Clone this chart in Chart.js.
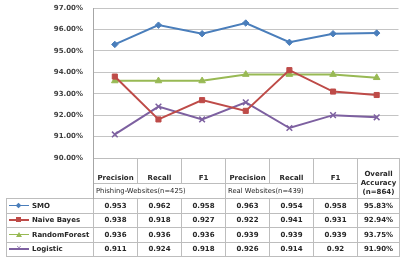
<!DOCTYPE html>
<html>
<head>
<meta charset="utf-8">
<script src="https://cdn.jsdelivr.net/npm/chart.js@4"></script>
<style>
  html, body { margin: 0; padding: 0; background: #fff; }
  #wrap { position: relative; width: 404px; height: 260px; overflow: hidden; font-family: 'DejaVu Sans', sans-serif; }
  #plot { position: absolute; left: 0; top: 0; width: 404px; height: 170px; }
  table.dt {
    position: absolute; left: 6px; top: 158px;
    border-collapse: collapse; table-layout: fixed;
    font-size: 7px; font-weight: bold; color: #262626;
  }
  table.dt td { border: 1px solid #bdbdbd; padding: 0; text-align: center; overflow: visible; white-space: nowrap; }
  table.dt td.blank { border: none; border-right: 1px solid #a6a6a6; }
  table.dt tr.h1 td { height: 23px; vertical-align: bottom; padding-bottom: 1px; }
  table.dt tr.h2 td { height: 14px; }
  table.dt tr.d td { height: 13.5px; }
  table.dt td.grp { text-align: left; font-weight: normal; padding-left: 2px; font-size: 6.8px; }
  table.dt td.ov { vertical-align: middle; line-height: 9px; }
  table.dt td.lg { text-align: left; padding-left: 2px; }
  .key { display: inline-block; position: relative; width: 20px; height: 7px; margin-right: 3px; vertical-align: -1px; }
  .key .ln { position: absolute; left: 0; right: 0; top: 3px; height: 1.5px; }
  .key .mk { position: absolute; left: 7px; top: 1px; width: 5px; height: 5px; }
</style>
</head>
<body>
<div id="wrap">
  <div id="plot"><canvas id="c"></canvas></div>
  <table class="dt" id="tbl"></table>
</div>
<script>
/* categories + groups */
const categories = ['Precision', 'Recall', 'F1', 'Precision', 'Recall', 'F1', 'Overall Accuracy'];
const groups     = ['Phishing-Websites(n=425)', 'Real Websites(n=439)'];
const overallLbl = ['Overall', 'Accuracy', '(n=864)'];

/* series (percent) */
const smo      = [95.3, 96.2, 95.8, 96.3, 95.4, 95.8, 95.83];
const bayes    = [93.8, 91.8, 92.7, 92.2, 94.1, 93.1, 92.94];
const forest   = [93.6, 93.6, 93.6, 93.9, 93.9, 93.9, 93.75];
const logistic = [91.1, 92.4, 91.8, 92.6, 91.4, 92.0, 91.90];

/* table texts */
const smoTxt      = ['0.953', '0.962', '0.958', '0.963', '0.954', '0.958', '95.83%'];
const bayesTxt    = ['0.938', '0.918', '0.927', '0.922', '0.941', '0.931', '92.94%'];
const forestTxt   = ['0.936', '0.936', '0.936', '0.939', '0.939', '0.939', '93.75%'];
const logisticTxt = ['0.911', '0.924', '0.918', '0.926', '0.914', '0.92', '91.90%'];

const yTicks = [90, 91, 92, 93, 94, 95, 96, 97];

const series = [
  { label: 'SMO',          data: smo,      txt: smoTxt,      color: '#4a7ebb', style: 'rectRot',  r: 3.2 },
  { label: 'Naive Bayes',  data: bayes,    txt: bayesTxt,    color: '#be4b48', style: 'rect',     r: 3.6 },
  { label: 'RandomForest', data: forest,   txt: forestTxt,   color: '#98b954', style: 'triangle', r: 3.8 },
  { label: 'Logistic',     data: logistic, txt: logisticTxt, color: '#7d60a0', style: 'crossRot', r: 4 }
];

/* ── chart ── */
new Chart(document.getElementById('c'), {
  type: 'line',
  data: {
    labels: categories,
    datasets: series.map(s => ({
      label: s.label,
      data: s.data,
      borderColor: s.color,
      backgroundColor: s.color,
      borderWidth: 2,
      pointStyle: s.style,
      pointRadius: s.r,
      pointBorderColor: s.color,
      pointBackgroundColor: s.color,
      pointBorderWidth: s.style === 'crossRot' ? 1.5 : 1,
      tension: 0
    }))
  },
  options: {
    responsive: true,
    maintainAspectRatio: false,
    animation: false,
    layout: { padding: { top: 8, bottom: 12, left: 0, right: 5 } },
    plugins: { legend: { display: false }, tooltip: { enabled: false } },
    scales: {
      x: { display: false, offset: true },
      y: {
        min: 90, max: 97,
        afterBuildTicks: sc => { sc.ticks = yTicks.map(v => ({ value: v })); },
        afterFit: sc => { sc.width = 93; sc.paddingTop = 0; sc.paddingBottom = 0; },
        grid: { color: '#c4c4c4', drawTicks: false, lineWidth: 1 },
        border: { display: true, color: '#a6a6a6' },
        ticks: {
          padding: 10,
          color: '#404040',
          font: { family: "'DejaVu Sans'", size: 7, weight: 'bold' },
          callback: v => v.toFixed(2) + '%'
        }
      }
    }
  }
});

/* ── data table ── */
const tbl = document.getElementById('tbl');
let html = '<colgroup><col style="width:87px">';
for (let i = 0; i < 6; i++) html += '<col style="width:44px">';
html += '<col style="width:42px"></colgroup>';

html += '<tr class="h1"><td class="blank" rowspan="2"></td>';
for (let i = 0; i < 6; i++) html += `<td>${categories[i]}</td>`;
html += `<td class="ov" rowspan="2">${overallLbl.join('<br>')}</td></tr>`;
html += `<tr class="h2"><td class="grp" colspan="3">${groups[0]}</td><td class="grp" colspan="3">${groups[1]}</td></tr>`;

series.forEach(s => {
  let mk;
  if (s.style === 'rectRot') mk = `<span class="mk" style="background:${s.color};transform:rotate(45deg) scale(.8)"></span>`;
  else if (s.style === 'rect') mk = `<span class="mk" style="background:${s.color}"></span>`;
  else if (s.style === 'triangle') mk = `<span class="mk" style="width:0;height:0;border-left:3px solid transparent;border-right:3px solid transparent;border-bottom:5px solid ${s.color}"></span>`;
  else mk = `<span class="mk" style="color:${s.color};font-size:7px;line-height:5px;text-align:center;font-weight:normal">×</span>`;
  html += `<tr class="d"><td class="lg"><span class="key"><span class="ln" style="background:${s.color}"></span>${mk}</span>${s.label}</td>`;
  s.txt.forEach(t => { html += `<td>${t}</td>`; });
  html += '</tr>';
});
tbl.innerHTML = html;
</script>
</body>
</html>
